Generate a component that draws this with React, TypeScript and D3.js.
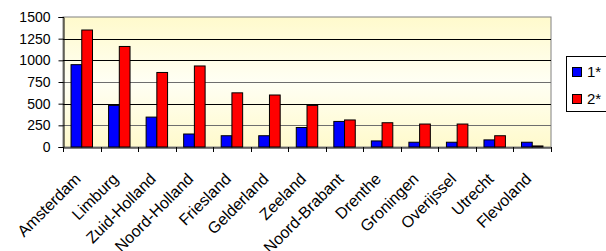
import React, { useEffect, useRef } from 'react';
import * as d3 from 'd3';

const provinces = [
  'Amsterdam', 'Limburg', 'Zuid-Holland', 'Noord-Holland', 'Friesland', 'Gelderland',
  'Zeeland', 'Noord-Brabant', 'Drenthe', 'Groningen', 'Overijssel', 'Utrecht', 'Flevoland',
];
const series1 = [950, 480, 345, 150, 130, 130, 225, 295, 70, 55, 55, 82, 55];
const series2 = [1350, 1160, 860, 935, 625, 600, 480, 312, 280, 265, 265, 130, 12];
const seriesNames = ['1*', '2*'];
const seriesColors = ['#0000ff', '#ff0000'];
const yTicks = [0, 250, 500, 750, 1000, 1250, 1500];

const W = 606;
const H = 251;
const margin = { top: 17, right: 55, bottom: 104, left: 63 };
const font = '"Liberation Sans", Arial, sans-serif';

const App: React.FC = () => {
  const svgRef = useRef<SVGSVGElement>(null);

  useEffect(() => {
    if (!svgRef.current) return;
    const svg = d3.select(svgRef.current);
    svg.selectAll('*').remove();

    const x0 = margin.left;
    const x1 = W - margin.right;
    const y0 = H - margin.bottom;
    const y1 = margin.top;

    const x = d3.scaleBand<string>().domain(provinces).range([x0, x1]).paddingInner(0).paddingOuter(0);
    const inner = d3.scaleBand<string>().domain(seriesNames).range([0, x.bandwidth()]).paddingInner(0).paddingOuter(0.75);
    const y = d3.scaleLinear().domain([0, 1500]).range([y0, y1]);

    // plot background gradient
    const defs = svg.append('defs');
    const grad = defs.append('linearGradient').attr('id', 'bg').attr('x1', 0).attr('y1', 0).attr('x2', 0).attr('y2', 1);
    grad.append('stop').attr('offset', '0%').attr('stop-color', '#fffacc');
    grad.append('stop').attr('offset', '50%').attr('stop-color', '#fffff4');
    grad.append('stop').attr('offset', '100%').attr('stop-color', '#fffacc');

    svg.append('rect')
      .attr('x', x0).attr('y', y1)
      .attr('width', x1 - x0).attr('height', y0 - y1)
      .attr('fill', 'url(#bg)')
      .attr('stroke', '#808080').attr('stroke-width', 1);

    // gridlines
    svg.append('g')
      .selectAll('line')
      .data(yTicks.filter(t => t > 0 && t < 1500))
      .enter()
      .append('line')
      .attr('x1', x0).attr('x2', x1)
      .attr('y1', d => Math.round(y(d)) + 0.5).attr('y2', d => Math.round(y(d)) + 0.5)
      .attr('stroke', d => (d === 750 || d === 250 ? '#6e6e6e' : '#000'))
      .attr('stroke-width', 1);

    // bars
    const data = [series1, series2];
    data.forEach((vals, si) => {
      svg.append('g')
        .selectAll('rect')
        .data(vals)
        .enter()
        .append('rect')
        .attr('x', (d, i) => (x(provinces[i]) || 0) + (inner(seriesNames[si]) || 0))
        .attr('y', d => y(d))
        .attr('width', inner.bandwidth())
        .attr('height', d => y0 - y(d))
        .attr('fill', seriesColors[si])
        .attr('stroke', '#000')
        .attr('stroke-width', 1);
    });

    // y axis
    const yAxis = svg.append('g')
      .attr('transform', `translate(${x0 + 0.5},0)`)
      .call(d3.axisLeft(y).tickValues(yTicks).tickFormat(d3.format('d')).tickSize(5).tickPadding(8));
    yAxis.select('.domain').attr('stroke', '#000');
    yAxis.selectAll('line').attr('stroke', '#000');
    yAxis.selectAll('text')
      .attr('fill', '#000')
      .style('font-family', font)
      .style('font-size', '14px');

    // x axis
    const xAxis = svg.append('g')
      .attr('transform', `translate(0,${y0 + 0.5})`)
      .call(d3.axisBottom(x).tickSize(0).tickFormat(() => ''));
    xAxis.select('.domain').attr('stroke', '#000');
    svg.append('g')
      .selectAll('line')
      .data(d3.range(provinces.length + 1))
      .enter()
      .append('line')
      .attr('x1', i => Math.round(x0 + i * x.bandwidth()) + 0.5)
      .attr('x2', i => Math.round(x0 + i * x.bandwidth()) + 0.5)
      .attr('y1', y0).attr('y2', y0 + 5)
      .attr('stroke', '#000');

    svg.append('g')
      .selectAll('text')
      .data(provinces)
      .enter()
      .append('text')
      .attr('transform', d => `translate(${(x(d) || 0) + x.bandwidth() / 2},${y0 + 33}) rotate(-45)`)
      .attr('text-anchor', 'end')
      .style('font-family', font)
      .style('font-size', '16px')
      .attr('fill', '#000')
      .text(d => d);

    // legend
    const lg = svg.append('g').attr('transform', 'translate(566,56)');
    lg.append('rect')
      .attr('x', 0.5).attr('y', 0.5)
      .attr('width', 50).attr('height', 55)
      .attr('fill', '#fff')
      .attr('stroke', '#000');
    seriesNames.forEach((name, i) => {
      lg.append('rect')
        .attr('x', 6.5).attr('y', 11.5 + i * 27)
        .attr('width', 9).attr('height', 9)
        .attr('fill', seriesColors[i])
        .attr('stroke', '#000');
      lg.append('text')
        .attr('x', 21).attr('y', 21 + i * 27)
        .style('font-family', font)
        .style('font-size', '15px')
        .attr('fill', '#000')
        .text(name);
    });
  }, []);

  return (
    <div style={{ position: 'absolute', left: 0, top: 0, width: W, height: H, background: '#fff' }}>
      <svg ref={svgRef} width={W} height={H} style={{ display: 'block' }} />
    </div>
  );
};

export default App;
